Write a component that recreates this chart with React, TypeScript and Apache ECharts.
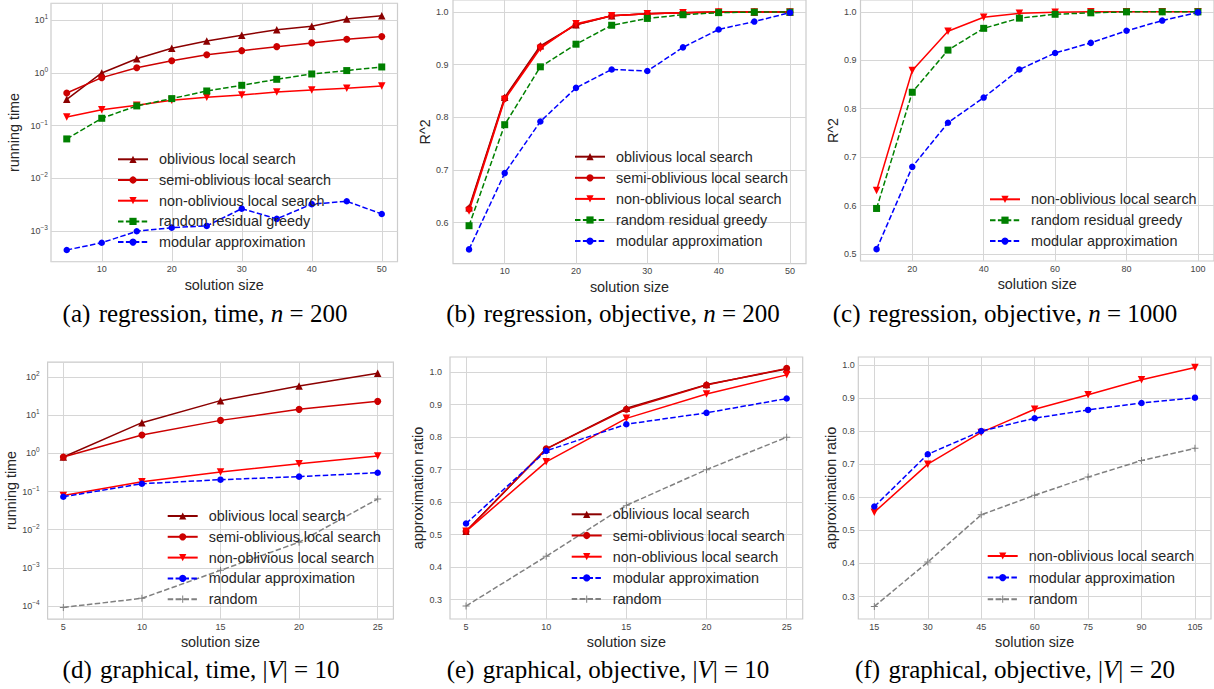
import React, { useEffect, useRef } from "react";
import * as echarts from "echarts";

const FONT = '"Liberation Sans", Arial, Helvetica, sans-serif';
const SERIF = '"Liberation Serif", "Times New Roman", Times, serif';

const N_OBL = "oblivious local search";
const N_SEMI = "semi-oblivious local search";
const N_NON = "non-oblivious local search";
const N_GREEDY = "random residual greedy";
const N_MOD = "modular approximation";
const N_RAND = "random";

// (a) regression, time, n = 200
const xA = [5, 10, 15, 20, 25, 30, 35, 40, 45, 50];
const aObl = [0.316, 1.0, 1.86, 2.95, 4.05, 5.2, 6.6, 7.7, 10.6, 12.2];
const aSemi = [0.417, 0.815, 1.26, 1.71, 2.22, 2.65, 3.16, 3.72, 4.37, 4.9];
const aNon = [0.146, 0.2, 0.244, 0.303, 0.347, 0.383, 0.436, 0.475, 0.513, 0.566];
const aGreedy = [0.056, 0.138, 0.237, 0.326, 0.455, 0.583, 0.758, 0.957, 1.11, 1.3];
const aModular = [4.37e-4, 6.0e-4, 9.9e-4, 1.16e-3, 1.25e-3, 2.66e-3, 1.7e-3, 3.24e-3, 3.67e-3, 2.11e-3];

// (b) regression, objective, n = 200
const xB = [5, 10, 15, 20, 25, 30, 35, 40, 45, 50];
const bObl = [0.628, 0.838, 0.936, 0.976, 0.993, 0.997, 0.999, 1.0, 1.0, 1.0];
const bSemi = [0.626, 0.836, 0.934, 0.976, 0.993, 0.997, 0.999, 1.0, 1.0, 1.0];
const bNon = [0.622, 0.834, 0.931, 0.978, 0.993, 0.997, 0.999, 1.0, 1.0, 1.0];
const bGreedy = [0.594, 0.786, 0.896, 0.939, 0.975, 0.988, 0.995, 0.999, 1.0, 1.0];
const bModular = [0.549, 0.694, 0.792, 0.856, 0.891, 0.888, 0.933, 0.967, 0.982, 0.999];

// (c) regression, objective, n = 1000
const xC = [10, 20, 30, 40, 50, 60, 70, 80, 90, 100];
const cNon = [0.631, 0.879, 0.96, 0.989, 0.997, 0.999, 1.0, 1.0, 1.0, 1.0];
const cGreedy = [0.594, 0.834, 0.921, 0.966, 0.987, 0.995, 0.998, 1.0, 1.0, 1.0];
const cModular = [0.51, 0.68, 0.771, 0.823, 0.881, 0.915, 0.936, 0.961, 0.982, 0.999];

// (d) graphical, time, |V| = 10
const xD = [5, 10, 15, 20, 25];
const dObl = [0.8, 6.36, 24, 58, 125];
const dSemi = [0.8, 3.02, 7.3, 14.2, 23];
const dNon = [0.079, 0.181, 0.324, 0.536, 0.85];
const dModular = [0.073, 0.16, 0.204, 0.245, 0.311];
const dRandom = [9.2e-5, 1.59e-4, 8.6e-4, 4.7e-3, 0.0636];

// (e) graphical, objective, |V| = 10
const xE = [5, 10, 15, 20, 25];
const eObl = [0.51, 0.764, 0.889, 0.962, 1.01];
const eSemi = [0.51, 0.764, 0.886, 0.961, 1.012];
const eNon = [0.51, 0.724, 0.858, 0.933, 0.992];
const eModular = [0.534, 0.758, 0.84, 0.875, 0.919];
const eRandom = [0.28, 0.433, 0.59, 0.7, 0.8];

// (f) graphical, objective, |V| = 20
const xF = [15, 30, 45, 60, 75, 90, 105];
const fNon = [0.555, 0.7, 0.796, 0.866, 0.91, 0.955, 0.992];
const fModular = [0.572, 0.73, 0.8, 0.839, 0.864, 0.885, 0.901];
const fRandom = [0.27, 0.404, 0.547, 0.606, 0.661, 0.711, 0.748];

// tick labels
const xTicksAB = [10, 20, 30, 40, 50];
const xTicksC = [20, 40, 60, 80, 100];
const xTicksDE = [5, 10, 15, 20, 25];
const xTicksF = [15, 30, 45, 60, 75, 90, 105];
const yTicksB = [0.6, 0.7, 0.8, 0.9, 1.0];
const yTicksC = [0.5, 0.6, 0.7, 0.8, 0.9, 1.0];
const yTicksEF = [0.3, 0.4, 0.5, 0.6, 0.7, 0.8, 0.9, 1.0];

const PLUS = "path://M4.3,0H5.7V4.3H10V5.7H5.7V10H4.3V5.7H0V4.3H4.3Z";

const STYLE: Record<string, any> = {
  [N_OBL]: { color: "#8b0000", symbol: "triangle", rotate: 0, size: 7.5, dash: null },
  [N_SEMI]: { color: "#cc0000", symbol: "circle", rotate: 0, size: 7, dash: null },
  [N_NON]: { color: "#ff0000", symbol: "triangle", rotate: 180, size: 7.5, dash: null },
  [N_GREEDY]: { color: "#008000", symbol: "rect", rotate: 0, size: 7, dash: [5.5, 2.4] },
  [N_MOD]: { color: "#0000ff", symbol: "circle", rotate: 0, size: 6.5, dash: [5.5, 2.4] },
  [N_RAND]: { color: "#808080", symbol: PLUS, rotate: 0, size: 7, dash: [5.5, 2.4] },
};

function mk(name: string, xs: number[], ys: number[], gi: number) {
  const s = STYLE[name];
  return {
    type: "line",
    name,
    xAxisIndex: gi,
    yAxisIndex: gi,
    data: xs.map((x, i) => [x, ys[i]]),
    symbol: s.symbol,
    symbolSize: s.size,
    symbolRotate: s.rotate,
    itemStyle: { color: s.color },
    lineStyle: { color: s.color, width: 1.5, type: s.dash ? s.dash : "solid" },
    emphasis: { disabled: true },
    silent: true,
  };
}

const GRIDS = [
  { left: 51, top: 3.4, width: 346.5, height: 258.2 },
  { left: 453, top: -2, width: 353, height: 265.6 },
  { left: 860.5, top: -1.6, width: 354, height: 262.6 },
  { left: 47.6, top: 362, width: 345.8, height: 257 },
  { left: 450, top: 357, width: 352.7, height: 262 },
  { left: 858.3, top: 357, width: 352.7, height: 262 },
];

const supMap = (e: number) => (e < 0 ? "\u2212" + -e : String(e));

function xAxis(gi: number, min: number, max: number, ticks: number[]) {
  return {
    type: "value",
    gridIndex: gi,
    min,
    max,
    name: "solution size",
    nameLocation: "middle",
    nameGap: 15.5,
    nameTextStyle: { fontSize: 14.4, color: "#262626", fontFamily: FONT, lineHeight: 15 },
    axisLine: { show: false },
    axisTick: { show: false, customValues: ticks },
    axisLabel: { customValues: ticks, fontSize: 9, color: "#444", margin: 3, fontFamily: FONT },
    splitLine: { show: true, lineStyle: { color: "#d6d6d6", width: 1 } },
  };
}

function yLin(gi: number, min: number, max: number, ticks: number[], name: string, nameGap: number, margin: number) {
  return {
    type: "value",
    gridIndex: gi,
    min,
    max,
    name,
    nameLocation: "middle",
    nameGap,
    nameTextStyle: { fontSize: 14.4, color: "#262626", fontFamily: FONT, lineHeight: 15 },
    axisLine: { show: false },
    axisTick: { show: false, customValues: ticks },
    axisLabel: {
      customValues: ticks,
      fontSize: 9,
      color: "#444",
      margin,
      fontFamily: FONT,
      formatter: (v: number) => v.toFixed(1),
    },
    splitLine: { show: true, lineStyle: { color: "#d6d6d6", width: 1 } },
  };
}

function yLog(gi: number, min: number, max: number, name: string, nameGap: number, margin: number) {
  return {
    type: "log",
    logBase: 10,
    gridIndex: gi,
    min,
    max,
    name,
    nameLocation: "middle",
    nameGap,
    nameTextStyle: { fontSize: 14.4, color: "#262626", fontFamily: FONT, lineHeight: 15 },
    axisLine: { show: false },
    axisTick: { show: false },
    axisLabel: {
      showMinLabel: false,
      showMaxLabel: false,
      margin,
      formatter: (v: number) => {
        const e = Math.round(Math.log10(v));
        return "{b|10}{s|" + supMap(e) + "}";
      },
      rich: {
        b: { fontSize: 9, color: "#444", fontFamily: FONT, lineHeight: 14 },
        s: { fontSize: 6.5, color: "#444", fontFamily: FONT, lineHeight: 7, verticalAlign: "top" },
      },
    },
    splitLine: { show: true, lineStyle: { color: "#d6d6d6", width: 1 } },
  };
}

function legend(left: number, top: number, names: string[], gap: number) {
  return {
    orient: "vertical",
    left,
    top,
    padding: 0,
    itemWidth: 30,
    itemHeight: 9,
    itemGap: gap,
    selectedMode: false,
    data: names,
    textStyle: { fontSize: 14.4, color: "#262626", fontFamily: FONT, lineHeight: 15, padding: [0, 0, 0, 6] },
  };
}

const CAPTIONS = [
  { x: 205, y: 313, text: "{r|(a) \u200Aregression, time, }{i|n}{r| = 200}" },
  { x: 613, y: 313, text: "{r|(b) \u200Aregression, objective, }{i|n}{r| = 200}" },
  { x: 1005, y: 313, text: "{r|(c) \u200Aregression, objective, }{i|n}{r| = 1000}" },
  { x: 201, y: 669, text: "{r|(d) \u200Agraphical, time, |}{i|V}{r|| = 10}" },
  { x: 608, y: 669, text: "{r|(e) \u200Agraphical, objective, |}{i|V}{r|| = 10}" },
  { x: 1015, y: 669, text: "{r|(f) \u200Agraphical, objective, |}{i|V}{r|| = 20}" },
];

export default function App() {
  const ref = useRef<HTMLDivElement>(null);
  useEffect(() => {
    if (!ref.current) return;
    const chart = echarts.init(ref.current, null, { renderer: "svg" });
    const grids = GRIDS.map((g) => ({
      ...g,
      show: true,
      borderColor: "#cccccc",
      borderWidth: 1.2,
      backgroundColor: "#ffffff",
      containLabel: false,
    }));
    const option: any = {
      animation: false,
      backgroundColor: "#ffffff",
      grid: grids,
      xAxis: [
        xAxis(0, 2.75, 52.25, xTicksAB),
        xAxis(1, 2.75, 52.25, xTicksAB),
        xAxis(2, 5.5, 104.5, xTicksC),
        xAxis(3, 4, 26, xTicksDE),
        xAxis(4, 4, 26, xTicksDE),
        xAxis(5, 10.5, 109.5, xTicksF),
      ],
      yAxis: [
        yLog(0, 2.63e-4, 20.9, "running time", 29.5, 3),
        yLin(1, 0.522, 1.023, yTicksB, "R^2", 21, 4.5),
        yLin(2, 0.4855, 1.0245, yTicksC, "R^2", 19.8, 4),
        yLog(3, 4.57e-5, 247, "running time", 26.7, 8),
        yLin(4, 0.24, 1.047, yTicksEF, "approximation ratio", 17.8, 8),
        yLin(5, 0.232, 1.024, yTicksEF, "approximation ratio", 19.1, 3.5),
      ],
      legend: [
        legend(117, 151.8, [N_OBL, N_SEMI, N_NON, N_GREEDY, N_MOD], 5.7),
        legend(574, 149.2, [N_OBL, N_SEMI, N_NON, N_GREEDY, N_MOD], 6.1),
        legend(989, 191.8, [N_NON, N_GREEDY, N_MOD], 5.9),
        legend(166.7, 508.5, [N_OBL, N_SEMI, N_NON, N_MOD, N_RAND], 5.8),
        legend(570.7, 506.8, [N_OBL, N_SEMI, N_NON, N_MOD, N_RAND], 6.2),
        legend(986.7, 548.5, [N_NON, N_MOD, N_RAND], 6.6),
      ],
      series: [
        mk(N_OBL, xA, aObl, 0),
        mk(N_SEMI, xA, aSemi, 0),
        mk(N_NON, xA, aNon, 0),
        mk(N_GREEDY, xA, aGreedy, 0),
        mk(N_MOD, xA, aModular, 0),
        mk(N_OBL, xB, bObl, 1),
        mk(N_SEMI, xB, bSemi, 1),
        mk(N_NON, xB, bNon, 1),
        mk(N_GREEDY, xB, bGreedy, 1),
        mk(N_MOD, xB, bModular, 1),
        mk(N_NON, xC, cNon, 2),
        mk(N_GREEDY, xC, cGreedy, 2),
        mk(N_MOD, xC, cModular, 2),
        mk(N_OBL, xD, dObl, 3),
        mk(N_SEMI, xD, dSemi, 3),
        mk(N_NON, xD, dNon, 3),
        mk(N_MOD, xD, dModular, 3),
        mk(N_RAND, xD, dRandom, 3),
        mk(N_OBL, xE, eObl, 4),
        mk(N_SEMI, xE, eSemi, 4),
        mk(N_NON, xE, eNon, 4),
        mk(N_MOD, xE, eModular, 4),
        mk(N_RAND, xE, eRandom, 4),
        mk(N_NON, xF, fNon, 5),
        mk(N_MOD, xF, fModular, 5),
        mk(N_RAND, xF, fRandom, 5),
      ],
      graphic: CAPTIONS.map((c) => ({
        type: "text",
        x: c.x,
        y: c.y,
        silent: true,
        style: {
          text: c.text,
          align: "center",
          verticalAlign: "middle",
          fontFamily: SERIF,
          fontSize: 25,
          fill: "#000",
          rich: {
            r: { fontFamily: SERIF, fontSize: 25, fill: "#000", color: "#000" },
            i: { fontFamily: SERIF, fontSize: 25, fontStyle: "italic", fill: "#000", color: "#000" },
          },
        },
      })),
    };
    chart.setOption(option);
    return () => chart.dispose();
  }, []);
  return (
    <div
      ref={ref}
      style={{ position: "absolute", left: 0, top: 0, width: 1214, height: 689, background: "#fff" }}
    />
  );
}
